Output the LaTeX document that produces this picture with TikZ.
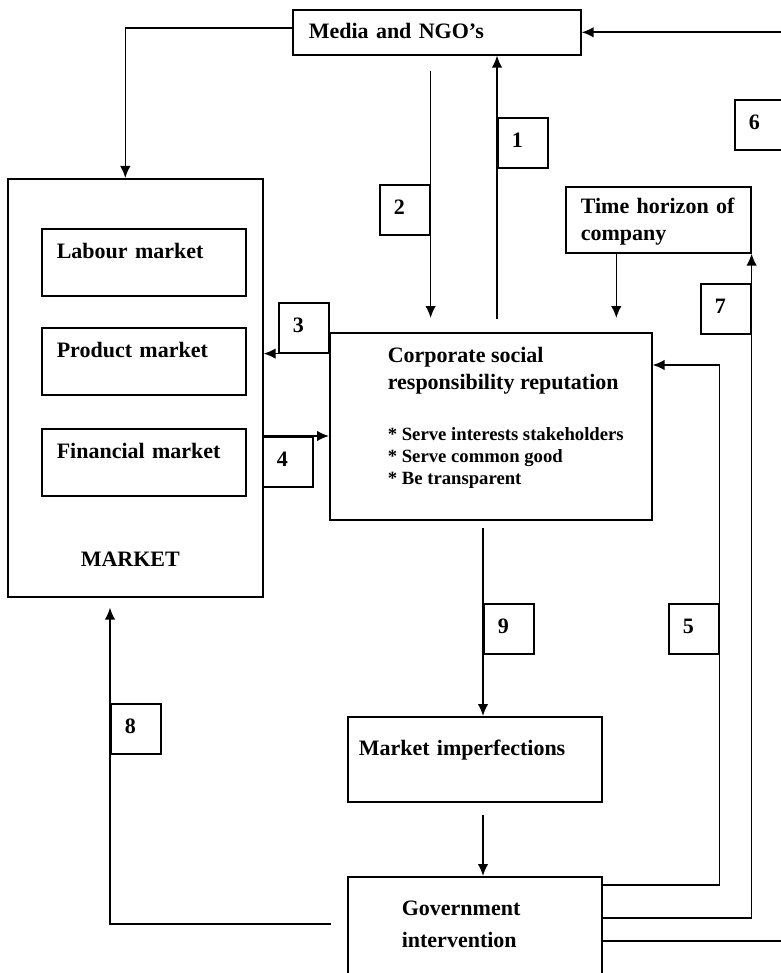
\documentclass[tikz,border=0pt]{standalone}
\usepackage{fontspec}
\setmainfont{Liberation Serif}
\usetikzlibrary{arrows.meta, positioning}

\begin{document}
\begin{tikzpicture}[
        x=1pt, y=-1pt,
        >={Latex[length=12pt,width=10.5pt]},
        line width=1.6pt,
        every node/.style={
            font=\fontsize{22}{27}\selectfont\bfseries
        },
        panel/.style={
            draw,
            anchor=north west,
            align=left,
            inner ysep=0pt,
            text height=15pt
        },
        mktbox/.style={
            panel,
            text width=174pt,
            inner xsep=15pt,
            minimum height=67pt,
            text depth=23pt
        },
        num/.style={
            draw,
            anchor=north west,
            align=left,
            text width=22pt,
            inner xsep=14pt,
            inner ysep=0pt,
            minimum height=50pt,
            text height=15pt,
            text depth=6pt
        },
        link/.style={
            ->
        }
    ]

    \useasboundingbox (0,0) rectangle (780,973);

    \node[panel, text width=256pt, inner xsep=16pt, minimum height=45pt, text depth=2pt] (media) at (292,9) {Media and NGO's};

    \node[panel, minimum width=255pt, minimum height=418pt] (market) at (7,178) {};
    \node[mktbox] (labour) at (41,228) {Labour market};
    \node[mktbox] (product) at (41,327) {Product market};
    \node[mktbox] (financial) at (41,428) {Financial market};
    \node[anchor=base west, inner sep=0pt] (mkttext) at (80,566) {MARKET};

    \node[panel, text width=155pt, inner xsep=15pt, minimum height=66pt, text depth=27pt] (time) at (565,186) {Time horizon of\\company};

    \node[panel, minimum width=322pt, minimum height=187pt] (csr) at (329,332) {};
    \node[align=left, inner sep=0pt, below right=14pt and 58pt of csr.north west] (csrtitle) {
        Corporate social\\
        responsibility reputation
    };
    \node[align=left, inner sep=0pt, font=\fontsize{18.7}{22}\selectfont\bfseries,
        below right=32pt and 0pt of csrtitle.south west] (csrlist) {
        * Serve interests stakeholders\\
        * Serve common good\\
        * Be transparent
    };

    \node[panel, text width=232pt, inner xsep=11pt, minimum height=85pt, text depth=22pt] (mi) at (347,716) {Market imperfections};
    \node[panel, text width=146pt, inner xsep=54pt, minimum height=110pt, text depth=47pt] (gov) at (347,876) {Government\\[5pt]intervention};

    \node[num] (lab1) at (497,117) {1};
    \node[num] (lab2) at (379,184) {2};
    \node[num] (lab3) at (278,302) {3};
    \node[num] (lab4) at (262,436) {4};
    \node[num] (lab5) at (668,603) {5};
    \node[num] (lab6) at (734,99) {6};
    \node[num] (lab7) at (700,283) {7};
    \node[num] (lab8) at (110,703) {8};
    \node[num] (lab9) at (483,603) {9};

    \coordinate (rim) at (786,0);

    \draw[link] ([yshift=4pt]media.west) -| ([xshift=-10pt]market.north);
    \draw[link, shorten <=15pt, shorten >=14pt] (lab2.east |- media.south) -- (lab2.east |- csr.north);
    \draw[link, shorten <=13pt] (lab1.west |- csr.north) -- (lab1.west |- media.south);
    \draw[link, shorten >=14pt] ([xshift=-42pt]time.south) -- ([xshift=-42pt]time.south |- csr.north);

    \draw[link] (csr.west |- lab3.south) -- (market.east |- lab3.south);
    \draw[link] (market.east |- lab4.north) -- (csr.west |- lab4.north);

    \draw[link, shorten <=7pt] (lab9.west |- csr.south) -- (lab9.west |- mi.north);
    \draw[link, shorten <=12pt] (lab9.west |- mi.south) -- (lab9.west |- gov.north);

    \draw[link] ([yshift=-9pt]gov.north east) -| (lab5.east) |- ([yshift=-33pt]csr.north east);
    \draw[link] ([yshift=-42pt]gov.north east) -| (time.south east);
    \draw ([yshift=-65pt]gov.north east) -- ([yshift=-65pt]gov.north east -| rim);
    \draw[link] (rim |- media.east) -- (media.east);
    \draw[link, shorten >=10pt] ([xshift=-16pt, yshift=-48pt]gov.north west) -| (lab8.west |- market.south);

\end{tikzpicture}
\end{document}
